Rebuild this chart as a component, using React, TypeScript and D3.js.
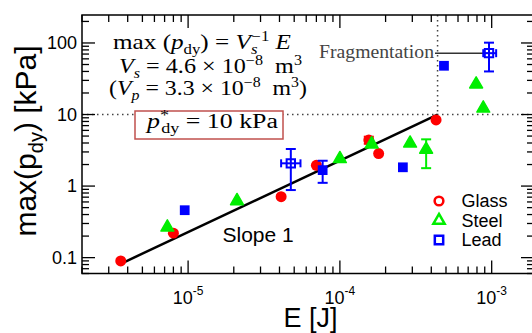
import * as d3 from "d3";
import React from "react";

// Glass (red circles)
const glassE = [3.6e-6, 8.0e-6, 4.1e-5, 7.0e-5, 1.55e-4, 1.8e-4, 4.3e-4];
const glassP = [0.09, 0.22, 0.71, 1.95, 4.4, 2.85, 8.4];
const glassLo = [null, null, null, null, 3.9, null, null];
const glassHi = [null, null, null, null, 4.9, null, null];

// Steel (green triangles)
const steelE = [7.3e-6, 2.1e-5, 1.0e-4, 1.62e-4, 2.9e-4, 3.7e-4, 7.9e-4, 8.8e-4];
const steelP = [0.265, 0.62, 2.4, 3.85, 3.95, 3.25, 26.5, 12.2];
const steelLo = [null, null, null, null, null, 1.78, null, null];
const steelHi = [null, null, null, null, null, 4.5, null, null];

// Lead (blue squares)
const leadE = [9.5e-6, 4.75e-5, 7.7e-5, 2.6e-4, 4.85e-4, 9.6e-4];
const leadP = [0.46, 2.08, 1.67, 1.83, 48, 72];
const leadOpen = [false, true, false, false, false, true];
const leadPLo = [null, 0.88, 1.11, null, null, 40];
const leadPHi = [null, 3.3, 2.26, null, null, 101];
const leadELo = [null, 4.1e-5, null, null, null, 8.8e-4];
const leadEHi = [null, 5.5e-5, null, null, null, 1.07e-3];

// slope 1 line and threshold
const slopeE = [3.6e-6, 4.4e-4];
const slopeP = [0.082, 10];
const pStar = 10;
const eStar = 4.4e-4;

const xMajor = [1e-5, 1e-4, 1e-3];
const xExp = ["-5", "-4", "-3"];
const yMajor = [0.1, 1, 10, 100];
const yLabels = ["0.1", "1", "10", "100"];

const legendNames = ["Glass", "Steel", "Lead"];
const RED = "#ff0000", GREEN = "#00ee00", BLUE = "#0000ff";

const W = 532, H = 333;
const ml = 82, mr = 534, mt = 15, mb = 273.5;

const sans = "'Liberation Sans', Arial, sans-serif";
const serif = "'Liberation Serif', 'Times New Roman', serif";

const isMajor = (t: number) => Math.abs(Math.log10(t) - Math.round(Math.log10(t))) < 1e-9;

export default function App() {
  const x = d3.scaleLog().domain([2e-6, 1.9e-3]).range([ml, mr]);
  const y = d3.scaleLog().domain([0.06, 246]).range([mb, mt]);

  const xt = x.ticks().filter(t => x(t) >= ml && x(t) <= mr);
  const yt = y.ticks().filter(t => y(t) <= mb && y(t) >= mt);

  const circ = d3.symbol(d3.symbolCircle, 95)()!;
  const tri = d3.symbol(d3.symbolTriangle, 72)()!;
  const sq = d3.symbol(d3.symbolSquare, 95)()!;
  const circL = d3.symbol(d3.symbolCircle, 60)()!;
  const triL = d3.symbol(d3.symbolTriangle, 55)()!;
  const sqL = d3.symbol(d3.symbolSquare, 70)()!;

  const line = d3.line<number>().x((_, i) => x(slopeE[i])).y(d => y(d));

  const errY = (e: number, lo: number | null, hi: number | null, col: string, key: string) =>
    lo == null || hi == null ? null : (
      <g key={key} stroke={col} strokeWidth={2}>
        <line x1={x(e)} x2={x(e)} y1={y(lo)} y2={y(hi)} />
        <line x1={x(e) - 5} x2={x(e) + 5} y1={y(lo)} y2={y(lo)} />
        <line x1={x(e) - 5} x2={x(e) + 5} y1={y(hi)} y2={y(hi)} />
      </g>
    );

  return (
    <svg width={W} height={H} style={{ position: "absolute", left: 0, top: 0, background: "#fff" }}>
      {/* dotted threshold lines */}
      <line x1={ml} x2={mr} y1={y(pStar)} y2={y(pStar)} stroke="#444" strokeWidth={1.5} strokeDasharray="1.5,3.5" />
      <line x1={x(eStar)} x2={x(eStar)} y1={mt} y2={y(pStar)} stroke="#444" strokeWidth={1.5} strokeDasharray="1.5,3.5" />

      {/* ticks */}
      {xt.map((t, i) => {
        const L = isMajor(t) ? 13 : 7;
        return (
          <g key={"xt" + i} stroke="#000" strokeWidth={1.3}>
            <line x1={x(t)} x2={x(t)} y1={mb} y2={mb - L} />
            <line x1={x(t)} x2={x(t)} y1={mt} y2={mt + L} />
          </g>
        );
      })}
      {yt.map((t, i) => {
        const L = isMajor(t) ? 13 : 7;
        return (
          <g key={"yt" + i} stroke="#000" strokeWidth={1.3}>
            <line x1={ml} x2={ml + L} y1={y(t)} y2={y(t)} />
            <line x1={mr} x2={mr - L} y1={y(t)} y2={y(t)} />
          </g>
        );
      })}
      <rect x={ml} y={mt} width={mr - ml} height={mb - mt} fill="none" stroke="#000" strokeWidth={1.5} />

      {/* tick labels */}
      {xMajor.map((t, i) => (
        <text key={"xl" + i} x={x(t)} y={303.5} textAnchor="middle" fontFamily={sans} fontSize={18}>
          10<tspan dy={-9} fontSize={12}>{xExp[i]}</tspan>
        </text>
      ))}
      {yMajor.map((t, i) => (
        <text key={"yl" + i} x={77} y={y(t) + 6} textAnchor="end" fontFamily={sans} fontSize={18}>
          {yLabels[i]}
        </text>
      ))}

      {/* axis titles */}
      <text x={310.5} y={327} textAnchor="middle" fontFamily={sans} fontSize={27}>E [J]</text>
      <text transform="translate(36,141) rotate(-90)" textAnchor="middle" fontFamily={sans} fontSize={30}>
        max(p<tspan dy={7} fontSize={20}>dy</tspan><tspan dy={-7}>) [kPa]</tspan>
      </text>

      {/* slope line */}
      <path d={line(slopeP)!} fill="none" stroke="#000" strokeWidth={2.5} />
      <text x={222.5} y={241.5} fontFamily={sans} fontSize={21}>Slope 1</text>

      {/* glass */}
      {glassE.map((e, i) => errY(e, glassLo[i], glassHi[i], RED, "ge" + i))}
      {glassE.map((e, i) => (
        <path key={"g" + i} d={circ} transform={`translate(${x(e)},${y(glassP[i])})`} fill={RED} />
      ))}
      {/* steel */}
      {steelE.map((e, i) => errY(e, steelLo[i], steelHi[i], GREEN, "se" + i))}
      {steelE.map((e, i) => (
        <path key={"s" + i} d={tri} transform={`translate(${x(e)},${y(steelP[i])})`} fill={GREEN}
          stroke={GREEN} strokeWidth={1.5} strokeLinejoin="round" />
      ))}

      {/* fragmentation annotation */}
      <line x1={435} x2={x(leadE[5])} y1={y(leadP[5])} y2={y(leadP[5])} stroke="#333" strokeWidth={1.5} />
      <text x={434} y={57.5} textAnchor="end" fontFamily={serif} fontSize={18} fill="#444" textLength={115} lengthAdjust="spacingAndGlyphs">Fragmentation</text>

      {/* lead */}
      {leadE.map((e, i) => errY(e, leadPLo[i], leadPHi[i], BLUE, "le" + i))}
      {leadE.map((e, i) => {
        const lo = leadELo[i], hi = leadEHi[i];
        if (lo == null || hi == null) return null;
        const yy = y(leadP[i]);
        return (
          <g key={"lx" + i} stroke={BLUE} strokeWidth={2}>
            <line x1={x(lo)} x2={x(hi)} y1={yy} y2={yy} />
            <line x1={x(lo)} x2={x(lo)} y1={yy - 4} y2={yy + 4} />
            <line x1={x(hi)} x2={x(hi)} y1={yy - 4} y2={yy + 4} />
          </g>
        );
      })}
      {leadE.map((e, i) => (
        <path key={"l" + i} d={leadOpen[i] ? sqL : sq} transform={`translate(${x(e)},${y(leadP[i])})`}
          fill={leadOpen[i] ? "none" : BLUE} stroke={leadOpen[i] ? BLUE : "none"} strokeWidth={2} />
      ))}

      {/* formulas */}
      <text x={113} y={49} fontFamily={serif} fontSize={21} textLength={178} lengthAdjust="spacingAndGlyphs">
        max (<tspan fontStyle="italic">p</tspan><tspan dy={5} fontSize={14}>dy</tspan><tspan dy={-5}>) = </tspan><tspan fontStyle="italic">V</tspan><tspan dy={5} fontSize={14} fontStyle="italic">s</tspan><tspan dx={-5} dy={-13} fontSize={14}>−1</tspan><tspan dy={8} fontStyle="italic">{"\u00a0E"}</tspan>
      </text>
      <text x={119} y={73} fontFamily={serif} fontSize={21} textLength={183} lengthAdjust="spacingAndGlyphs">
        <tspan fontStyle="italic">V</tspan><tspan dy={5} fontSize={14} fontStyle="italic">s</tspan><tspan dy={-5}>{" = 4.6 × 10"}</tspan><tspan dy={-8} fontSize={14}>−8</tspan><tspan dy={8}>{"\u00a0\u00a0m"}</tspan><tspan dy={-8} fontSize={14}>3</tspan>
      </text>
      <text x={109} y={95} fontFamily={serif} fontSize={21} textLength={198} lengthAdjust="spacingAndGlyphs">
        (<tspan fontStyle="italic">V</tspan><tspan dy={5} fontSize={14} fontStyle="italic">p</tspan><tspan dy={-5}>{" = 3.3 × 10"}</tspan><tspan dy={-8} fontSize={14}>−8</tspan><tspan dy={8}>{"\u00a0\u00a0m"}</tspan><tspan dy={-8} fontSize={14}>3</tspan><tspan dy={8}>)</tspan>
      </text>

      {/* threshold box */}
      <rect x={135} y={111} width={148} height={28} fill="#fff" stroke="#c0504d" strokeWidth={1.5} />
      <text x={147} y={128} fontFamily={serif} fontSize={20} textLength={131} lengthAdjust="spacingAndGlyphs">
        <tspan fontStyle="italic">p</tspan><tspan dy={-8} fontSize={14}>*</tspan><tspan dx={-6} dy={13} fontSize={14}>dy</tspan><tspan dy={-5}>{" = 10 kPa"}</tspan>
      </text>

      {/* legend */}
      {legendNames.map((n, i) => (
        <g key={"lg" + i} transform={`translate(439,${201 + i * 19.5})`}>
          <path d={i === 0 ? circL : i === 1 ? triL : sqL} fill="none"
            stroke={i === 0 ? RED : i === 1 ? GREEN : BLUE} strokeWidth={2.5} />
          <text x={22.5} y={6} fontFamily={sans} fontSize={18}>{n}</text>
        </g>
      ))}
    </svg>
  );
}
